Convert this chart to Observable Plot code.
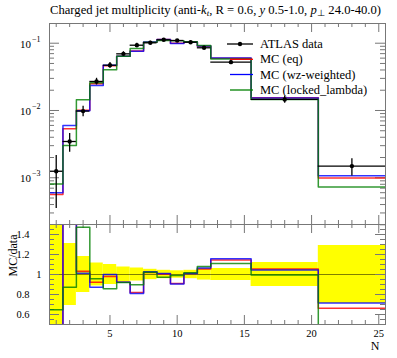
<!DOCTYPE html>
<html><head><meta charset="utf-8">
<script src="https://cdn.jsdelivr.net/npm/d3@7"></script>
<script src="https://cdn.jsdelivr.net/npm/@observablehq/plot@0.6"></script>
<style>
body{margin:0;background:#fff;}
#chart{position:relative;width:397px;height:358px;overflow:hidden;font-family:"Liberation Serif",serif;}
#chart svg{position:absolute;left:0;}
</style></head><body><div id="chart"></div>
<script>
// ---- data ----
const binEdges = [0.5,1.5,2.5,3.5,4.5,5.5,6.5,7.5,8.5,9.5,10.5,11.5,12.5,15.5,20.5,25.5];
const binCenters = [1,2,3,4,5,6,7,8,9,10,11,12,14,18,23];
const dataValues = [1.25e-3,3.46e-3,9.8e-3,0.027,0.0471,0.0695,0.0934,0.1014,0.1124,0.1097,0.1035,0.0855,0.0523,0.0146,1.49e-3];
const dataRelErr = [0.72,0.31,0.18,0.115,0.10,0.075,0.065,0.052,0.042,0.037,0.042,0.056,0.06,0.12,0.29];
const mcEq = [5.65e-4,5.34e-3,0.01012,0.02492,0.04616,0.06415,0.0766,0.1034,0.1131,0.0998,0.1045,0.0903,0.0599,0.01542,9.88e-4];
const mcWz = [5.98e-4,5.98e-3,0.00993,0.02357,0.0471,0.06415,0.07565,0.1041,0.1135,0.0994,0.1045,0.0911,0.0605,0.01527,1.067e-3];
const mcLocked = [8.1e-4,3.02e-3,0.01444,0.02584,0.04036,0.06394,0.08378,0.1037,0.1094,0.1086,0.1052,0.0923,0.0581,0.01454,7.3e-4];
const seriesNames = ["MC (eq)","MC (wz-weighted)","MC (locked_lambda)"];
const seriesColors = ["#ff0000","#0000ff","#008000"];
const dataName = "ATLAS data";
const logTickValues = [1e-3,1e-2,1e-1];
const logTickExponents = ["−3","−2","−1"];
const ratioTickValues = [0.6,0.8,1,1.2,1.4];
const ratioTickLabels = ["0.6","0.8","1","1.2","1.4"];
const xTickValues = [5,10,15,20,25];
const xLabel = "N";
const yRatioLabel = "MC/data";

// ---- layout ----
const W = 397, ML = 49, MR = 12;
const PW = W - ML - MR;
const topH = 225, topMT = 23, topMB = 1, topPH = topH - topMT - topMB;
const botH = 135, botMT = 1, botMB = 34, botPH = botH - botMT - botMB;
const xDomain = [0.5, 25.5];
const frameColor = "#777";
const font = "Liberation Serif";

const mcSeries = [mcEq, mcWz, mcLocked];
function steps(values){
  const pts=[];
  values.forEach((v,i)=>{pts.push({x:binEdges[i],y:v});pts.push({x:binEdges[i+1],y:v});});
  return pts;
}
const dataRows = binCenters.map((c,i)=>({x:c, lo:binEdges[i], hi:binEdges[i+1], v:dataValues[i], e:dataRelErr[i]}));

const intTicks = d3.range(1,26);
const minorX = intTicks.filter(d=>d%5!==0);
const majorX = xTickValues;
const logMinor = [];
for (const dec of [1e-4,1e-3,1e-2,1e-1]) for (let k=2;k<=9;k++){ const v=k*dec; if (v>=2e-4 && v<=0.196) logMinor.push(v); }
const ratioMinor = d3.range(0.5,1.5001,0.05).map(d=>+d.toFixed(2)).filter(d=>!ratioTickValues.some(t=>Math.abs(t-d)<1e-6));

function tickMarks(ph, minorYs, majorYs){
  const m = [];
  m.push(Plot.ruleX(minorX,{x:d=>d, insetBottom:ph-4, stroke:frameColor}));
  m.push(Plot.ruleX(majorX,{x:d=>d, insetBottom:ph-9, stroke:frameColor}));
  m.push(Plot.ruleX(minorX,{x:d=>d, insetTop:ph-4, stroke:frameColor}));
  m.push(Plot.ruleX(majorX,{x:d=>d, insetTop:ph-9, stroke:frameColor}));
  m.push(Plot.ruleY(minorYs,{y:d=>d, insetRight:PW-5, stroke:frameColor}));
  m.push(Plot.ruleY(majorYs,{y:d=>d, insetRight:PW-10, stroke:frameColor}));
  m.push(Plot.ruleY(minorYs,{y:d=>d, insetLeft:PW-5, stroke:frameColor}));
  m.push(Plot.ruleY(majorYs,{y:d=>d, insetLeft:PW-10, stroke:frameColor}));
  return m;
}

// ---- top panel ----
const topPlot = Plot.plot({
  width: W, height: topH, marginTop: topMT, marginBottom: topMB, marginLeft: ML, marginRight: MR,
  style: {fontFamily: font, background: "white", overflow: "visible"},
  x: {domain: xDomain, axis: null},
  y: {type: "log", domain: [2.02e-4, 0.1963], axis: null},
  marks: [
    ...tickMarks(topPH, logMinor, logTickValues),
    ...mcSeries.map((s,i)=>Plot.line(steps(s),{x:"x", y:"y", stroke:seriesColors[i], strokeWidth:1.5, strokeOpacity:0.8, clip:true})),
    Plot.ruleX(dataRows,{x:"x", y1:d=>d.v*(1-d.e), y2:d=>d.v*(1+d.e), stroke:"black", strokeWidth:1.3, clip:true}),
    Plot.ruleY(dataRows,{y:"v", x1:"lo", x2:"hi", stroke:"black", strokeWidth:1.3, clip:true}),
    Plot.dot(dataRows,{x:"x", y:"v", r:2.2, fill:"black", stroke:"none"}),
    Plot.text(logTickValues,{y:d=>d, text:()=>"10", frameAnchor:"left", textAnchor:"end", dx:-18.5, dy:1, fontSize:11}),
    Plot.text(logTickValues,{y:d=>d, text:(d,i)=>logTickExponents[i], frameAnchor:"left", textAnchor:"start", dx:-17.5, dy:-4, fontSize:8}),
    Plot.frame({stroke: frameColor})
  ]
});
topPlot.style.top = "0px";

// ---- ratio panel ----
const bandRows = dataRows.map(d=>({lo:d.lo, hi:d.hi, y1:1-d.e, y2:1+d.e}));
const botPlot = Plot.plot({
  width: W, height: botH, marginTop: botMT, marginBottom: botMB, marginLeft: ML, marginRight: MR,
  style: {fontFamily: font, background: "transparent", overflow: "visible"},
  x: {domain: xDomain, axis: null},
  y: {domain: [0.5, 1.5], axis: null},
  marks: [
    Plot.rect(bandRows,{x1:"lo", x2:"hi", y1:"y1", y2:"y2", fill:"#ffff00", clip:true}),
    Plot.ruleY([1],{stroke:"black", strokeOpacity:0.5}),
    ...tickMarks(botPH, ratioMinor, ratioTickValues),
    ...mcSeries.map((s,i)=>Plot.line(steps(s.map((v,j)=>v/dataValues[j])),{x:"x", y:"y", stroke:seriesColors[i], strokeWidth:1.5, strokeOpacity:0.8, clip:true})),
    Plot.text(ratioTickValues.filter((d,i)=>ratioTickLabels[i].includes(".")),{y:d=>d, text:d=>ratioTickLabels[ratioTickValues.indexOf(d)], frameAnchor:"left", textAnchor:"end", dx:-20, fontSize:10.5}),
    Plot.text(ratioTickValues.filter((d,i)=>!ratioTickLabels[i].includes(".")),{y:d=>d, text:d=>ratioTickLabels[ratioTickValues.indexOf(d)], frameAnchor:"left", textAnchor:"end", dx:-8, fontSize:10.5}),
    Plot.text(xTickValues,{x:d=>d, text:d=>String(d), frameAnchor:"bottom", dy:12, fontSize:10.5}),
    Plot.text([xLabel],{text:d=>d, frameAnchor:"bottom-right", dx:-6, dy:25.5, fontSize:12}),
    Plot.text([yRatioLabel],{text:d=>d, frameAnchor:"left", rotate:-90, dx:-36, dy:2, fontSize:12}),
    Plot.frame({stroke: frameColor})
  ]
});
botPlot.style.top = (topH - 2) + "px";

const chart = document.getElementById("chart");
chart.appendChild(topPlot);
chart.appendChild(botPlot);

// ---- title ----
const svg = d3.select(topPlot);
const title = svg.append("text").attr("x", 50).attr("y", 14).attr("font-size", 12).attr("font-family", font)
  .attr("fill","black").attr("text-anchor","start").attr("textLength", 331).attr("lengthAdjust","spacingAndGlyphs");
title.append("tspan").text("Charged jet multiplicity (anti-");
title.append("tspan").attr("font-style","italic").text("k");
title.append("tspan").attr("font-style","italic").attr("font-size",8.5).attr("dy",2).text("t");
title.append("tspan").attr("dy",-2).text(", R = 0.6, ");
title.append("tspan").attr("font-style","italic").text("y");
title.append("tspan").text(" 0.5-1.0, ");
title.append("tspan").attr("font-style","italic").text("p");
title.append("tspan").attr("font-size",8.5).attr("dy",2).text("⊥");
title.append("tspan").attr("dy",-2).text(" 24.0-40.0)");

// ---- legend ----
const legendX1 = 227, legendX2 = 253, legendTextX = 260;
const legendYs = [44, 59.3, 74.5, 90];
const lg = svg.append("g").attr("font-family", font).attr("font-size", 12.5).attr("text-anchor","start");
lg.append("line").attr("x1",legendX1).attr("x2",legendX2).attr("y1",legendYs[0]).attr("y2",legendYs[0]).attr("stroke","black").attr("stroke-width",1.3);
lg.append("circle").attr("cx",(legendX1+legendX2)/2).attr("cy",legendYs[0]).attr("r",2.2).attr("fill","black");
lg.append("text").attr("x",legendTextX).attr("y",legendYs[0]+4).text(dataName);
seriesNames.forEach((n,i)=>{
  const y = legendYs[i+1];
  lg.append("line").attr("x1",legendX1+3).attr("x2",legendX2).attr("y1",y).attr("y2",y).attr("stroke",seriesColors[i]).attr("stroke-width",1.3);
  lg.append("text").attr("x",legendTextX).attr("y",y+4).text(n);
});
</script></body></html>
